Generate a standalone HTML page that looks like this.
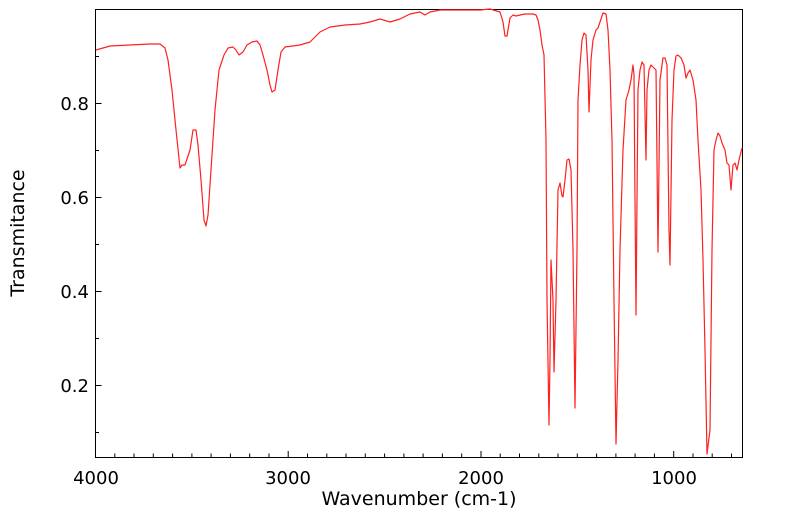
<!DOCTYPE html>
<html><head><meta charset="utf-8"><style>body{margin:0;background:#fff}svg{display:block}text{font-family:"DejaVu Sans","Liberation Sans",sans-serif;fill:#000}</style></head><body>
<svg width="799" height="516" viewBox="0 0 799 516">
<rect x="95.5" y="9.5" width="647" height="448" fill="none" stroke="#000" stroke-width="1"/>
<g stroke="#000" stroke-width="1">
<path d="M95.5,457v-6 M114.8,457v-3.5 M134,457v-3.5 M153.3,457v-3.5 M172.6,457v-3.5 M191.9,457v-3.5 M211.1,457v-3.5 M230.4,457v-3.5 M249.7,457v-3.5 M269,457v-3.5 M288.2,457v-6 M307.5,457v-3.5 M326.8,457v-3.5 M346,457v-3.5 M365.3,457v-3.5 M384.6,457v-3.5 M403.9,457v-3.5 M423.1,457v-3.5 M442.4,457v-3.5 M461.7,457v-3.5 M481,457v-6 M500.2,457v-3.5 M519.5,457v-3.5 M538.8,457v-3.5 M558,457v-3.5 M577.3,457v-3.5 M596.6,457v-3.5 M615.9,457v-3.5 M635.1,457v-3.5 M654.4,457v-3.5 M673.7,457v-6 M693,457v-3.5 M712.2,457v-3.5 M731.5,457v-3.5"/>
<path d="M95.5,103.5h6 M95.5,150.5h3.5 M95.5,197.5h6 M95.5,244.5h3.5 M95.5,291.5h6 M95.5,338.5h3.5 M95.5,385.5h6 M95.5,432.5h3.5 M95.5,56.5h3.5"/>
</g>
<g font-size="18">
<text x="89" y="110" text-anchor="end">0.8</text>
<text x="89" y="204" text-anchor="end">0.6</text>
<text x="89" y="298" text-anchor="end">0.4</text>
<text x="89" y="392" text-anchor="end">0.2</text>
<text x="96" y="484" text-anchor="middle">4000</text>
<text x="288" y="484" text-anchor="middle">3000</text>
<text x="481" y="484" text-anchor="middle">2000</text>
<text x="674" y="484" text-anchor="middle">1000</text>
<text x="419" y="505" text-anchor="middle" font-size="19">Wavenumber (cm-1)</text>
<text transform="translate(24,233) rotate(-90)" text-anchor="middle" font-size="19">Transmitance</text>
</g>
<polyline fill="none" stroke="#ff2020" stroke-width="1.2" stroke-linejoin="round" points="96,50 110,46 150,44 160,44 165,48 168,60 172,90 176,130 180,168 182,165 185,165 190,150 193,130 196,130 198,145 201,180 204,220 206,226 208,215 211,170 215,110 219,70 224,55 228,48 233,47 236,50 239,55 243,52 247,45 252,42 257,41 260,45 263,55 267,70 270,85 272,92 275,90 278,70 281,52 285,47 300,45 310,42 315,37 320,32 330,27 345,25 360,24 370,22 380,19 390,22 400,19 410,14 420,12 425,15 430,12 440,10 460,10 480,10 490,9 500,12 503,22 505,36 507,36 510,18 513,15 516,16 520,15 525,14 533,14 536,15 538,20 540,30 542,45 544,55 546,140 547,300 549,425 550,360 551,260 553,300 554,372 556,300 558,190 560,183 562,196 563,197 565,180 567,160 569,159 571,170 573,250 575,408 577,250 578,100 580,65 582,40 584,33 586,35 588,70 589,112 591,60 593,40 596,30 598,28 600,22 603,13 606,14 608,30 610,70 612,140 614,300 616,444 618,360 620,250 623,150 626,100 629,90 631,80 633,65 634,75 635,200 636,315 637,200 638,90 640,70 642,62 644,65 646,160 647,90 649,70 651,65 653,67 656,70 658,252 660,80 663,58 665,58 667,65 669,230 670,265 672,120 674,70 676,56 678,55 681,58 684,65 686,78 688,73 690,70 693,80 696,100 698,140 701,190 703,260 705,350 707,454 710,430 712,250 714,150 716,140 718,133 720,136 722,143 725,150 727,163 729,165 731,190 733,165 735,163 737,170 739,160 742,148"/>
</svg>
</body></html>
